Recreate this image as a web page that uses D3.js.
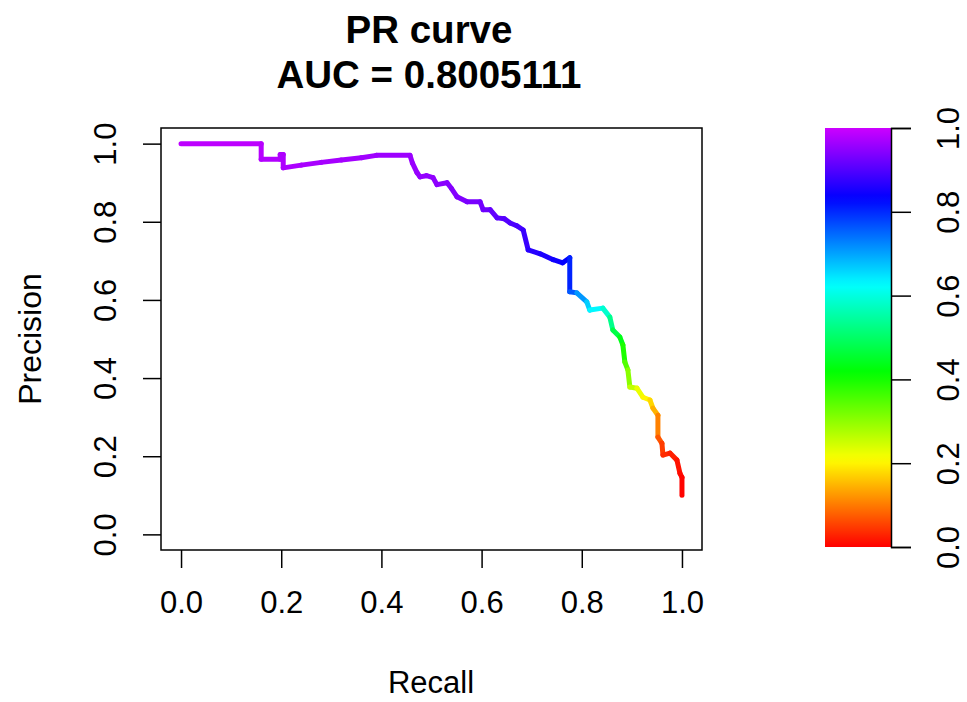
<!DOCTYPE html>
<html><head><meta charset="utf-8">
<script src="https://cdn.jsdelivr.net/npm/d3@7"></script>
<style>
body{margin:0;background:#fff}
svg{display:block}
text{font-family:"Liberation Sans",Arial,Helvetica,sans-serif;fill:#000}
</style>
</head><body>
<svg id="c" width="967" height="702"></svg>
<script>
const recall = [0.000,0.160,0.160,0.198,0.198,0.204,0.204,0.240,0.280,0.320,0.360,0.390,0.457,0.462,0.471,0.477,0.490,0.503,0.511,0.531,0.540,0.551,0.571,0.597,0.603,0.617,0.631,0.645,0.657,0.670,0.683,0.693,0.717,0.743,0.762,0.776,0.776,0.790,0.810,0.816,0.842,0.856,0.862,0.876,0.882,0.886,0.892,0.896,0.910,0.922,0.936,0.942,0.952,0.952,0.960,0.962,0.976,0.990,0.996,1.000,1.000];
const precision = [1.000,1.000,0.960,0.960,0.972,0.972,0.938,0.945,0.952,0.958,0.964,0.970,0.970,0.950,0.926,0.915,0.918,0.913,0.895,0.900,0.885,0.864,0.851,0.851,0.831,0.831,0.810,0.808,0.797,0.790,0.779,0.728,0.718,0.703,0.695,0.708,0.621,0.618,0.595,0.574,0.579,0.556,0.523,0.505,0.485,0.441,0.421,0.377,0.374,0.351,0.344,0.323,0.305,0.249,0.233,0.203,0.208,0.190,0.156,0.146,0.100];
const threshold = [0.99,0.985,0.98,0.978,0.977,0.976,0.975,0.972,0.97,0.968,0.966,0.964,0.96,0.959,0.958,0.956,0.954,0.952,0.95,0.945,0.942,0.94,0.935,0.93,0.925,0.92,0.91,0.905,0.90,0.895,0.89,0.87,0.86,0.85,0.84,0.83,0.78,0.74,0.68,0.65,0.61,0.56,0.50,0.45,0.42,0.37,0.33,0.28,0.24,0.21,0.19,0.16,0.13,0.08,0.06,0.04,0.03,0.02,0.01,0.005,0.0];
const xTicks = [0,0.2,0.4,0.6,0.8,1.0];
const yTicks = [0,0.2,0.4,0.6,0.8,1.0];
const cbTicks = [0,0.2,0.4,0.6,0.8,1.0];
const titleLines = ["PR curve","AUC = 0.8005111"];
const xLabel = "Recall";
const yLabel = "Precision";

const svg = d3.select("#c");
const fmt = d3.format(".1f");
const x = d3.scaleLinear().domain([-0.04,1.04]).range([161,702]);
const y = d3.scaleLinear().domain([-0.04,1.04]).range([550,128]);
const col = v => d3.hsl(288*v,1,0.5).formatHex();

// title
svg.selectAll("text.title").data(titleLines).join("text")
  .attr("class","title")
  .attr("x",429).attr("y",(d,i)=>43+i*45)
  .attr("text-anchor","middle")
  .style("font-size","38.5px").style("font-weight","bold")
  .text(d=>d);

// curve segments
const pts = recall.map((r,i)=>({r, p:precision[i], t:threshold[i]}));
const segs = d3.pairs(pts);
svg.append("g").selectAll("line").data(segs).join("line")
  .attr("x1",d=>x(d[0].r)).attr("y1",d=>y(d[0].p))
  .attr("x2",d=>x(d[1].r)).attr("y2",d=>y(d[1].p))
  .attr("stroke",d=>col((d[0].t+d[1].t)/2))
  .attr("stroke-width",5)
  .attr("stroke-linecap","round");

// box
svg.append("rect").attr("x",161).attr("y",128).attr("width",541).attr("height",422)
  .attr("fill","none").attr("stroke","#000").attr("stroke-width",1.5);

// x axis
const gx = svg.append("g").attr("transform","translate(0,550)")
  .call(d3.axisBottom(x).tickValues(xTicks).tickSize(18).tickPadding(23).tickFormat(fmt));
gx.select(".domain").remove();
gx.selectAll("line").attr("stroke","#000").attr("stroke-width",1.5);
gx.selectAll("text").style("font-size","31px").attr("fill","#1a1a1a");

// y axis
const gy = svg.append("g").attr("transform","translate(161,0)")
  .call(d3.axisLeft(y).tickValues(yTicks).tickSize(18).tickFormat(fmt));
gy.select(".domain").remove();
gy.selectAll("line").attr("stroke","#000").attr("stroke-width",1.5);
gy.selectAll("text").style("font-size","31px").attr("fill","#1a1a1a")
  .attr("x",null).attr("dy",null)
  .attr("text-anchor","middle")
  .attr("transform","translate(-45,0) rotate(-90)");

// axis labels
svg.append("text").attr("x",431).attr("y",693).attr("text-anchor","middle")
  .style("font-size","31px").attr("fill","#1a1a1a").text(xLabel);
svg.append("text").attr("transform","translate(41,339) rotate(-90)").attr("text-anchor","middle")
  .style("font-size","32px").attr("fill","#1a1a1a").text(yLabel);

// colour bar
const cb = d3.scaleLinear().domain([0,1]).range([547,128]);
const defs = svg.append("defs");
const grad = defs.append("linearGradient").attr("id","rb")
  .attr("x1",0).attr("y1",1).attr("x2",0).attr("y2",0);
grad.selectAll("stop").data(d3.range(0,1.0001,0.02)).join("stop")
  .attr("offset",d=>d).attr("stop-color",d=>col(d));
svg.append("rect").attr("x",825).attr("y",cb(1)).attr("width",66).attr("height",cb(0)-cb(1))
  .attr("fill","url(#rb)");
const gc = svg.append("g").attr("transform","translate(891,0)")
  .call(d3.axisRight(cb).tickValues(cbTicks).tickSize(20).tickFormat(fmt));
gc.select(".domain").attr("stroke","#000").attr("stroke-width",1.5);
gc.selectAll("line").attr("stroke","#000").attr("stroke-width",1.5);
gc.selectAll("text").style("font-size","31px").attr("fill","#1a1a1a")
  .attr("x",null).attr("dy",null)
  .attr("text-anchor","middle")
  .attr("transform","translate(68,0) rotate(-90)");
</script>
</body></html>
